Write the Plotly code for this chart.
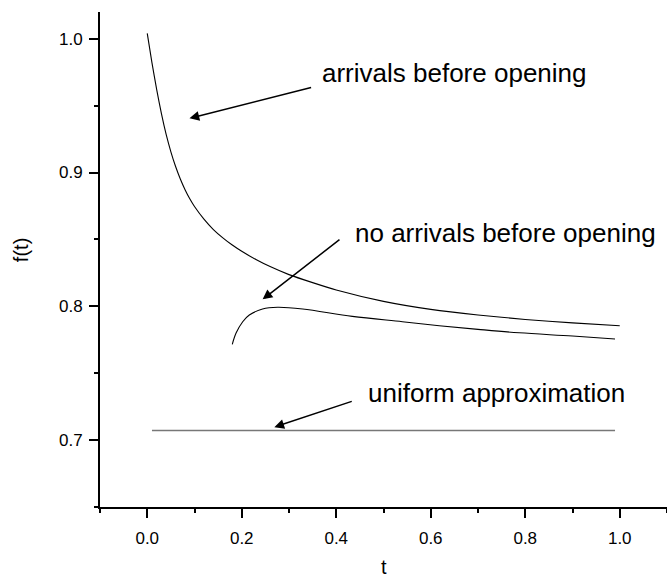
import plotly.graph_objects as go

# Upper curve: arrivals before opening
t_arr = [0.00, 0.01, 0.02, 0.03, 0.04, 0.05, 0.06, 0.07, 0.08, 0.09,
         0.10, 0.12, 0.14, 0.16, 0.18, 0.20, 0.23, 0.26, 0.30, 0.35,
         0.40, 0.50, 0.60, 0.70, 0.80, 0.90, 1.00]
f_arr = [1.004, 0.982, 0.962, 0.944, 0.9285, 0.9155, 0.9045, 0.8952, 0.8872, 0.8804,
         0.8746, 0.8652, 0.8574, 0.8512, 0.8458, 0.8411, 0.8350, 0.8297, 0.8237, 0.8177,
         0.8122, 0.8037, 0.7977, 0.7935, 0.7902, 0.7876, 0.7855]

# Lower curve: no arrivals before opening
t_noarr = [0.180, 0.188, 0.202, 0.216, 0.244, 0.276, 0.329, 0.434, 0.540, 0.618,
           0.700, 0.787, 0.900, 0.990]
f_noarr = [0.7716, 0.780, 0.7885, 0.7935, 0.798, 0.7993, 0.798, 0.7925, 0.7885, 0.7855,
           0.7828, 0.7802, 0.7778, 0.7756]

# Uniform approximation
t_uni = [0.01, 0.99]
f_uni = [0.7071, 0.7071]

x_ticks = [0.0, 0.2, 0.4, 0.6, 0.8, 1.0]
x_ticklabels = ["0.0", "0.2", "0.4", "0.6", "0.8", "1.0"]
y_ticks = [0.7, 0.8, 0.9, 1.0]
y_ticklabels = ["0.7", "0.8", "0.9", "1.0"]

FONT = "Liberation Sans, Arial, sans-serif"

fig = go.Figure()
fig.add_trace(go.Scatter(x=t_arr, y=f_arr, mode="lines",
                         line=dict(color="black", width=1.1, shape="spline", smoothing=0.6)))
fig.add_trace(go.Scatter(x=t_noarr, y=f_noarr, mode="lines",
                         line=dict(color="black", width=1.1, shape="spline", smoothing=1.0)))
fig.add_trace(go.Scatter(x=t_uni, y=f_uni, mode="lines",
                         line=dict(color="#777777", width=1.5)))

# arrows (head x,y ; tail ax,ay) in data coords
arrows = [
    (0.0894, 0.9405, 0.350, 0.9639),
    (0.2442, 0.8052, 0.410, 0.8507),
    (0.2690, 0.7097, 0.436, 0.7293),
]
for hx, hy, tx, ty in arrows:
    fig.add_annotation(x=hx, y=hy, ax=tx, ay=ty, xref="x", yref="y", axref="x", ayref="y",
                       text="", showarrow=True, arrowhead=2, arrowsize=1.3,
                       arrowwidth=1.5, arrowcolor="black")

labels = [
    ("arrivals before opening", 0.3646, 0.9741),
    ("no arrivals before opening", 0.4344, 0.8545),
    ("uniform approximation", 0.4640, 0.7351),
]
for txt, lx, ly in labels:
    fig.add_annotation(x=lx, y=ly, xref="x", yref="y", text=txt, showarrow=False,
                       xanchor="left", yanchor="middle",
                       font=dict(family=FONT, size=26, color="black"))

# axis titles
fig.add_annotation(x=-0.1, y=0.842, xref="x", yref="y", xshift=-79, text="f(t)",
                   textangle=-90, showarrow=False, xanchor="center", yanchor="middle",
                   font=dict(family=FONT, size=20, color="black"))
fig.add_annotation(x=0.5, y=0.65, xref="paper", yref="y", yshift=-60, text="t",
                   showarrow=False, xanchor="center", yanchor="middle",
                   font=dict(family=FONT, size=20, color="black"))

fig.update_layout(
    width=667, height=577,
    margin=dict(l=100, r=0, t=12, b=70),
    paper_bgcolor="white", plot_bgcolor="white",
    showlegend=False,
    font=dict(family=FONT, size=17, color="black"),
)
fig.update_xaxes(range=[-0.1, 1.1], showgrid=False, zeroline=False,
                 showline=True, linewidth=2, linecolor="black",
                 ticks="outside", ticklen=9, tickwidth=2, tickcolor="black",
                 tickvals=x_ticks, ticktext=x_ticklabels,
                 minor=dict(ticks="outside", ticklen=4, tickwidth=2, tickcolor="black", dtick=0.1,
                            showgrid=False),
                 tickfont=dict(family=FONT, size=17), ticklabelstandoff=6)
fig.update_yaxes(range=[0.65, 1.02], showgrid=False, zeroline=False,
                 showline=True, linewidth=2, linecolor="black",
                 ticks="outside", ticklen=9, tickwidth=2, tickcolor="black",
                 tickvals=y_ticks, ticktext=y_ticklabels,
                 minor=dict(ticks="outside", ticklen=4, tickwidth=2, tickcolor="black", dtick=0.05,
                            showgrid=False),
                 tickfont=dict(family=FONT, size=17), ticklabelstandoff=3)

fig.write_html("out.html")
